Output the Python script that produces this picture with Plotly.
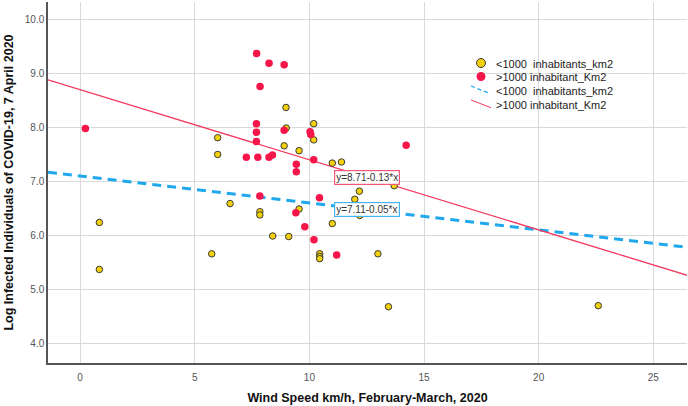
import plotly.graph_objects as go

# ---- data ----
low_x = [0.84, 0.84, 6.0, 6.0, 8.98, 10.19, 8.99, 10.19, 8.90, 9.55, 6.54, 7.84, 7.84, 9.55,
         8.40, 9.10, 5.74, 10.45, 10.45, 10.45, 12.99, 13.45, 11.0, 12.18, 11.0, 11.4,
         11.98, 12.2, 13.7, 22.6]
low_y = [6.25, 5.38, 7.82, 7.51, 8.38, 8.08, 8.00, 7.78, 7.67, 7.58, 6.60, 6.45, 6.39, 6.50,
         6.00, 5.99, 5.67, 5.67, 5.62, 5.58, 5.67, 4.69, 6.23, 6.83, 7.35, 7.37,
         6.68, 6.38, 6.93, 4.71]

high_x = [0.23, 7.70, 8.24, 8.90, 7.85, 7.69, 7.69, 8.90, 10.03, 10.06, 7.69, 7.25, 7.75,
          8.24, 8.39, 9.43, 9.43, 10.19, 7.84, 9.41, 10.44, 9.80, 10.20, 11.19, 14.22]
high_y = [7.99, 9.38, 9.20, 9.17, 8.77, 8.08, 7.92, 7.96, 7.93, 7.88, 7.75, 7.46, 7.46,
          7.46, 7.50, 7.33, 7.19, 7.41, 6.74, 6.43, 6.71, 6.17, 5.93, 5.65, 7.68]

fit_x = [-1.4, 26.5]
fit_low_y = [7.18, 5.79]
fit_high_y = [8.89, 5.27]

label_x = 12.5
label_low_y = 6.49
label_high_y = 7.085
label_low = "y=7.11-0.05*x"
label_high = "y=8.71-0.13*x"

legend_labels = ["<1000\u00a0\u00a0inhabitants_km2", ">1000 inhabitant_Km2",
                 "<1000\u00a0\u00a0inhabitants_km2", ">1000 inhabitant_Km2"]

x_ticks = [0, 5, 10, 15, 20, 25]
y_ticks = [4, 5, 6, 7, 8, 9, 10]
y_tick_text = ["4.0", "5.0", "6.0", "7.0", "8.0", "9.0", "10.0"]

YELLOW = "#f2d10a"
RED = "#f7164a"
BLUE = "#1fa8ee"
REDLINE = "#f43a5e"
FONT = "Arial, Liberation Sans, sans-serif"

fig = go.Figure()
fig.add_trace(go.Scatter(x=fit_x, y=fit_low_y, mode="lines", name=legend_labels[2],
                         line=dict(color=BLUE, width=3, dash="9px,6px")))
fig.add_trace(go.Scatter(x=fit_x, y=fit_high_y, mode="lines", name=legend_labels[3],
                         line=dict(color=REDLINE, width=1.3)))
fig.add_trace(go.Scatter(x=low_x, y=low_y, mode="markers", name=legend_labels[0],
                         marker=dict(color=YELLOW, size=6.5, line=dict(color="#3a3a3a", width=1))))
fig.add_trace(go.Scatter(x=high_x, y=high_y, mode="markers", name=legend_labels[1],
                         marker=dict(color=RED, size=7.5, line=dict(width=0))))

# line labels
fig.add_annotation(x=label_x, y=label_high_y, text=label_high, showarrow=False,
                   font=dict(family=FONT, size=10, color="#333333"),
                   bgcolor="white", bordercolor="#f2587a", borderwidth=1.2, borderpad=1)
fig.add_annotation(x=label_x, y=label_low_y, text=label_low, showarrow=False,
                   font=dict(family=FONT, size=10, color="#333333"),
                   bgcolor="white", bordercolor="#45b3f0", borderwidth=1.2, borderpad=1)

# legend drawn manually (pixel positions within the plot area)
W, H = 688, 406
L, R, T, B = 48, 1, 2, 43
pw, ph = W - L - R, H - T - B


def px(x):
    return (x - L) / pw


def py(y):
    return 1 - (y - T) / ph


text_y = [64, 77, 91.5, 105]
for i, t in enumerate(legend_labels):
    fig.add_annotation(x=px(494), y=py(text_y[i]), xref="paper", yref="paper", text=t,
                       showarrow=False, xanchor="left", yanchor="middle",
                       font=dict(family=FONT, size=11, color="#222222"))

fig.add_shape(type="circle", xref="paper", yref="paper", x0=px(476.5), x1=px(485.5),
              y0=py(58.5), y1=py(67.5), fillcolor=YELLOW, line=dict(color="#3a3a3a", width=1))
fig.add_shape(type="circle", xref="paper", yref="paper", x0=px(476.5), x1=px(485.5),
              y0=py(72), y1=py(81), fillcolor=RED, line=dict(width=0))
fig.add_shape(type="line", xref="paper", yref="paper", x0=px(471), x1=px(490),
              y0=py(86), y1=py(93.5), line=dict(color=BLUE, width=1.3, dash="4px,3px"))
fig.add_shape(type="line", xref="paper", yref="paper", x0=px(471), x1=px(491),
              y0=py(100), y1=py(107.7), line=dict(color=REDLINE, width=1))

fig.update_layout(
    width=W, height=H,
    margin=dict(l=L, r=R, t=T, b=B),
    paper_bgcolor="white", plot_bgcolor="white",
    showlegend=False,
    font=dict(family=FONT, color="#444444"),
)
fig.update_xaxes(range=[-1.4, 26.47], tickvals=x_ticks, showgrid=True, automargin=False,
                 gridcolor="#d9d9d9", gridwidth=1.3, zeroline=False,
                 showline=True, linecolor="#555555", linewidth=1.5, ticks="",
                 ticklabelstandoff=4,
                 tickfont=dict(size=10, color="#555555"),
                 title=dict(text="<b>Wind Speed km/h, February-March, 2020</b>",
                            font=dict(size=12.5, color="#111111", family=FONT),
                            standoff=11))
fig.update_yaxes(range=[3.648, 10.333], tickvals=y_ticks, ticktext=y_tick_text,
                 showgrid=True, gridcolor="#d9d9d9", gridwidth=1.3, zeroline=False,
                 automargin=False,
                 showline=True, linecolor="#555555", linewidth=1.5, ticks="",
                 tickfont=dict(size=10, color="#555555"),
                 title=dict(text="<b>Log Infected Individuals of COVID-19, 7 April 2020</b>",
                            font=dict(size=12.5, color="#111111", family=FONT),
                            standoff=8))

fig.write_html("out.html", config={"displayModeBar": False},
               post_script="document.body.style.margin='0';document.body.style.overflow='hidden';")
